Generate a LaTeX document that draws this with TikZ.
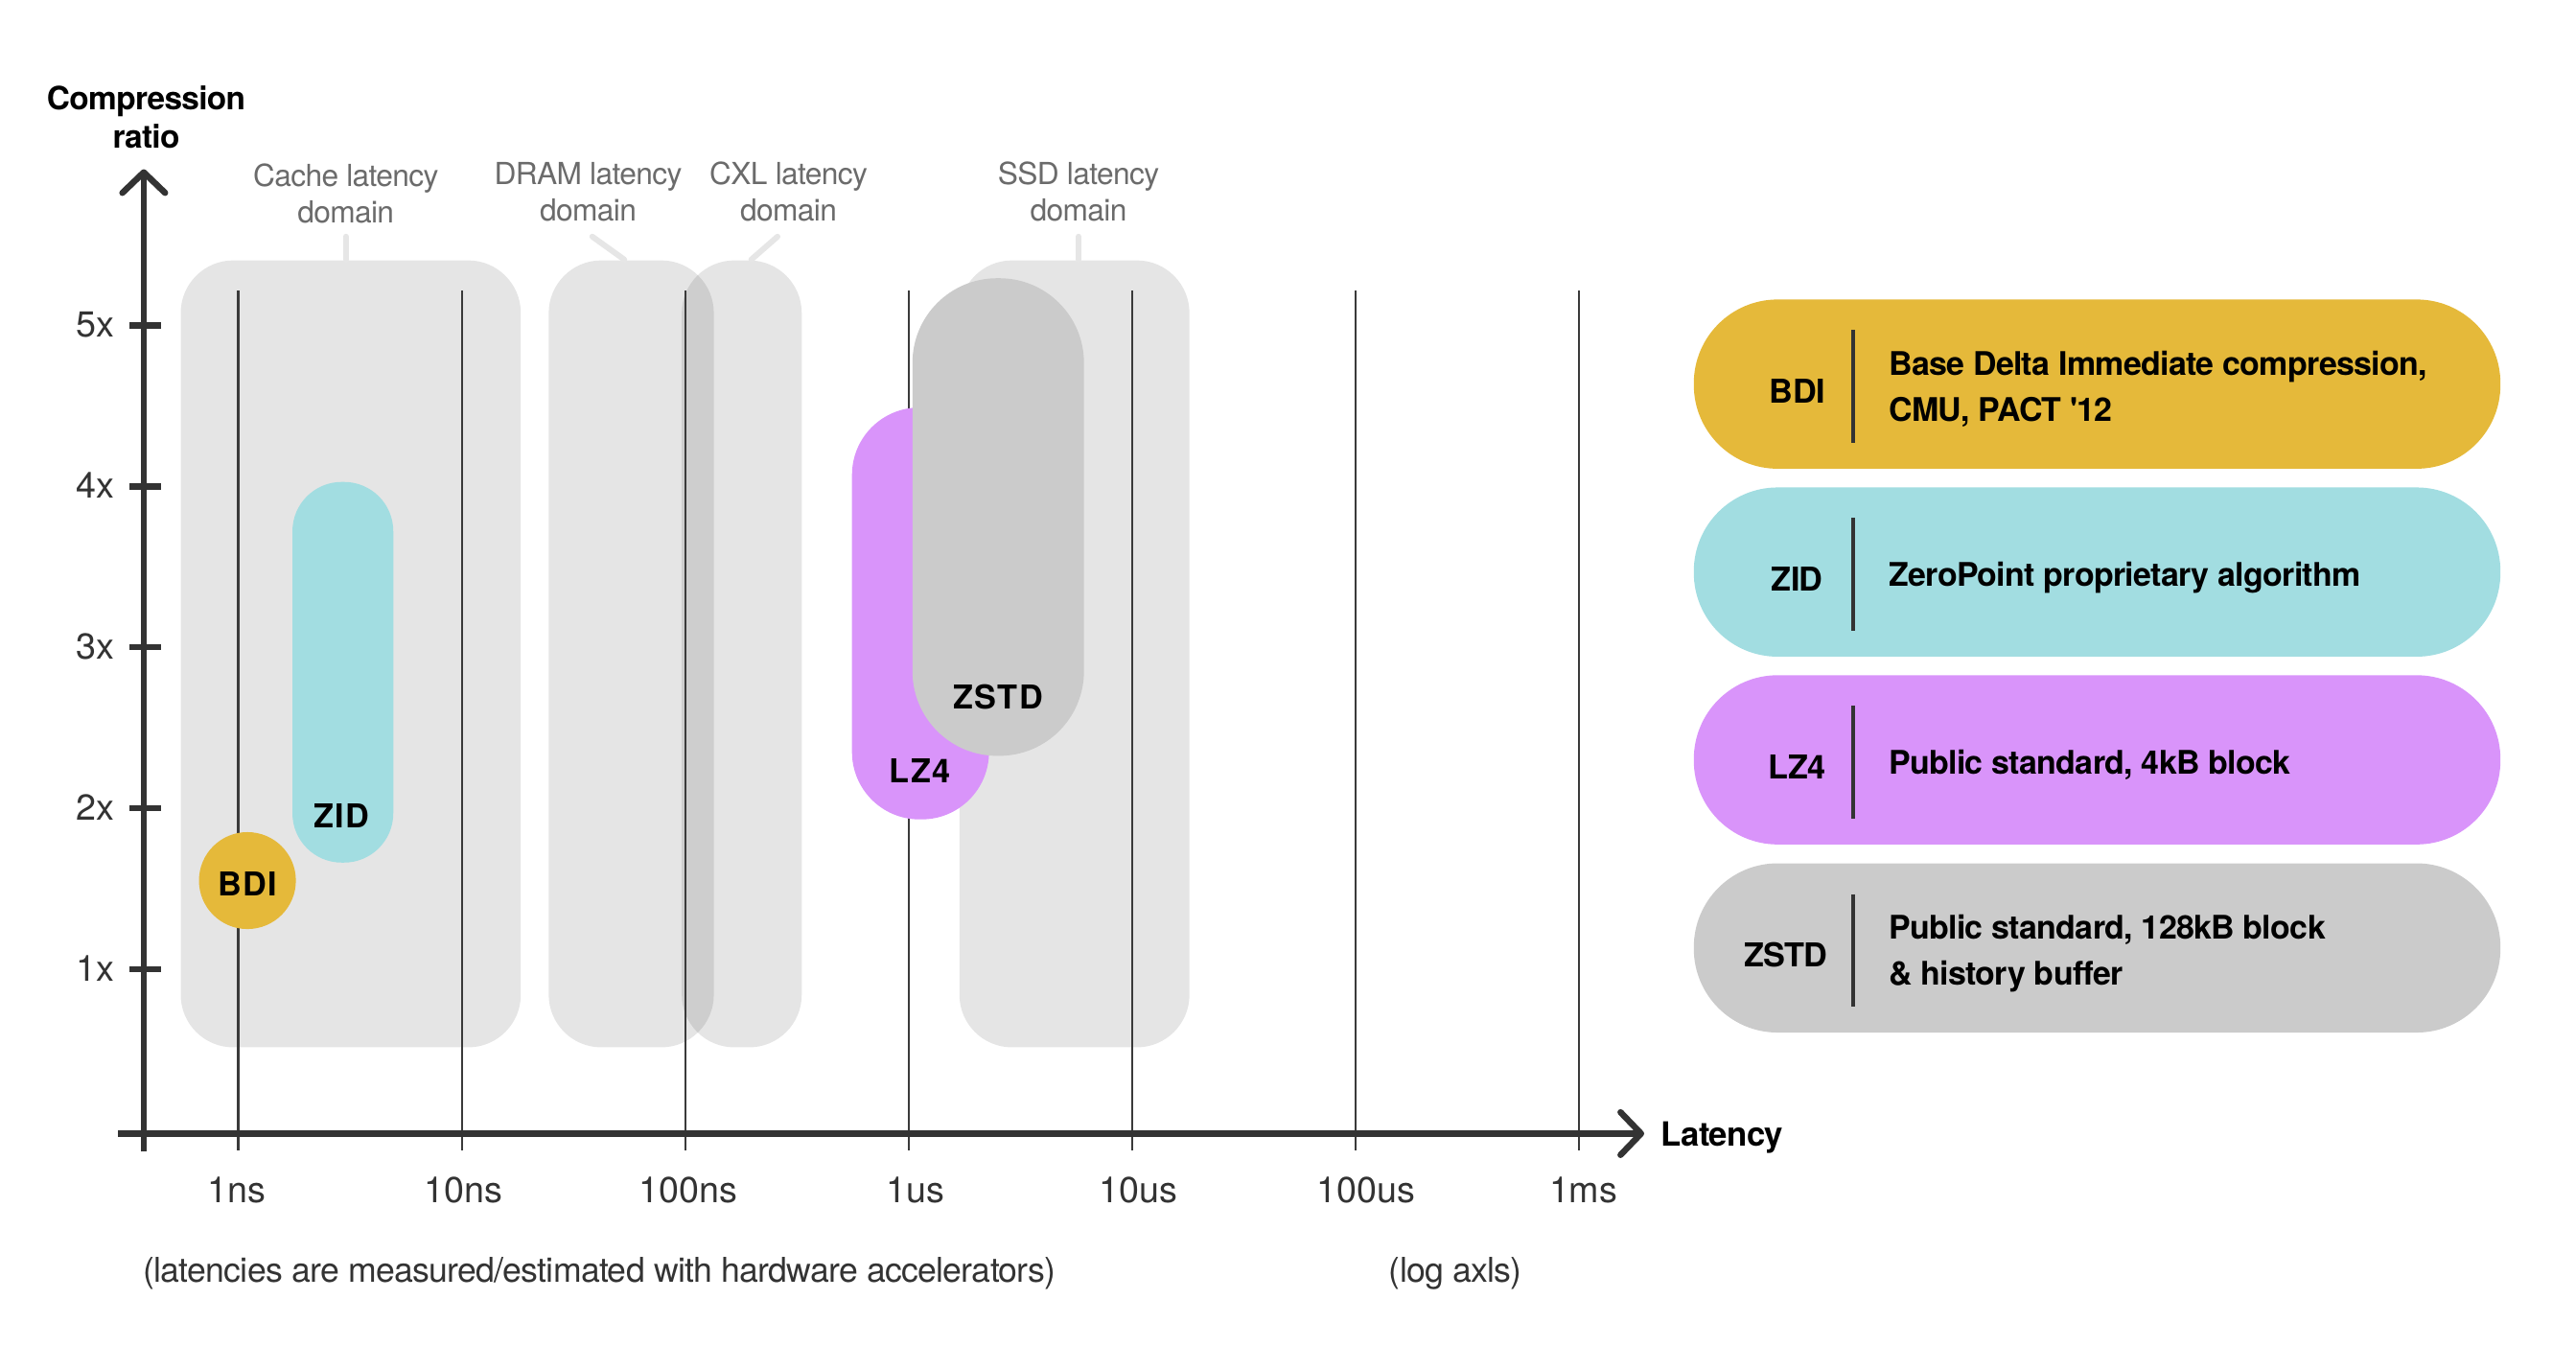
\documentclass[tikz,border=0pt]{standalone}
\usepackage{fontspec}
\setmainfont[LetterSpace=-2,Ligatures=TeXOff]{TeX Gyre Heros}
\newfontfamily\tagfont[LetterSpace=4]{TeX Gyre Heros}
\newfontfamily\tickfont{TeX Gyre Heros}
\usepackage{tikz}
\usetikzlibrary{math}
\usetikzlibrary{arrows.meta}

\definecolor{bdigold}{HTML}{E5B93A}
\definecolor{zidcyan}{HTML}{A2DDE1}
\definecolor{lzpurple}{HTML}{D994FA}
\definecolor{zstdgray}{HTML}{CBCBCB}
\definecolor{axisgray}{HTML}{333333}
\definecolor{gridgray}{HTML}{3A3A3A}
\definecolor{labelgray}{HTML}{6B6B6B}
\definecolor{leadergray}{HTML}{E6E6E6}

\begin{document}
\begin{tikzpicture}[x=1pt, y=-1pt,
    domainbox/.style={rectangle, fill=black, fill opacity=0.1, rounded corners=32pt,
        inner sep=0pt, minimum height=479pt},
    leader/.style={draw=leadergray, line width=3.5pt, line cap=round},
    domaintext/.style={text=labelgray, align=center, anchor=base, inner sep=0pt,
        font=\fontsize{18.5}{22.5}\selectfont},
    gridline/.style={draw=gridgray, line width=1.2pt},
    axis/.style={draw=axisgray, line width=3.8pt},
    ticktext/.style={text=axisgray, inner sep=0pt, font=\tickfont\fontsize{22}{24}\selectfont},
    notetext/.style={text=axisgray, inner sep=0pt, font=\fontsize{20.8}{24}\selectfont},
    axistitle/.style={align=center, inner sep=0pt, font=\fontsize{19.5}{23}\selectfont\bfseries},
    algobox/.style={rectangle, inner sep=0pt},
    algotext/.style={font=\tagfont\fontsize{20}{24}\selectfont\bfseries},
    keybox/.style={rectangle, inner sep=0pt, minimum width=491pt, minimum height=103pt,
        rounded corners=51pt},
    keyname/.style={anchor=base, inner sep=0pt, font=\fontsize{20}{24}\selectfont\bfseries},
    keytext/.style={anchor=base west, align=left, inner sep=0pt,
        font=\fontsize{19.8}{27.7}\selectfont\bfseries},
    keyrule/.style={draw=black!80, line width=2pt}
]

% Position settings
\tikzmath{
    \Decade = 136;
    \Ratio = 98;
    \FirstTick = 145;
}

\useasboundingbox (0,0) rectangle (1568,833);

\coordinate (Xstart) at (72,690);
\coordinate (Xend) at (1000.8,690);
\coordinate (Ystart) at (87.5,701);
\coordinate (Yend) at (87.5,103);

% Draws latency domains
\node[domainbox, minimum width=207pt] (cache) at (213.5,398) {};
\node[domainbox, minimum width=100.5pt] (dram) at (384.25,398) {};
\node[domainbox, minimum width=73pt] (cxl) at (451.5,398) {};
\node[domainbox, minimum width=140pt] (ssd) at (654,398) {};

\node[domaintext] (cachelbl) at (210.5,135.8) {Cache latency\\domain};
\node[domaintext] (dramlbl) at (358,134.6) {DRAM latency\\domain};
\node[domaintext] (cxllbl) at (480,134.6) {CXL latency\\domain};
\node[domaintext] (ssdlbl) at (656.5,134.6) {SSD latency\\domain};

\coordinate (cachefoot) at (210.5,158);
\coordinate (dramfoot) at (380,158);
\coordinate (cxlfoot) at (457.3,158);
\coordinate (ssdfoot) at (656.5,158);
\draw[leader] (210.5,144) -- (cachefoot);
\draw[leader] (360.5,144) -- (dramfoot);
\draw[leader] (473.3,144) -- (cxlfoot);
\draw[leader] (656.5,144) -- (ssdfoot);

% Draws latency grid
\draw[gridline] (\FirstTick,177) -- (\FirstTick,700);
\draw[gridline] (\FirstTick+\Decade,177) -- (\FirstTick+\Decade,700);
\draw[gridline] (\FirstTick+2*\Decade,177) -- (\FirstTick+2*\Decade,700);
\draw[gridline] (\FirstTick+3*\Decade,177) -- (\FirstTick+3*\Decade,700);
\draw[gridline] (\FirstTick+4*\Decade,177) -- (\FirstTick+4*\Decade,700);
\draw[gridline] (\FirstTick+5*\Decade,177) -- (\FirstTick+5*\Decade,700);
\draw[gridline] (\FirstTick+6*\Decade,177) -- (\FirstTick+6*\Decade,700);

% Draws axis
\draw[axis, -{Straight Barb[length=12.5pt, width=26pt, round]}] (Xstart) -- (Xend);
\draw[axis, -{Straight Barb[length=12.5pt, width=26pt, round]}] (Ystart) -- (Yend);
\node[axistitle, anchor=base west, font=\fontsize{20.3}{24}\selectfont\bfseries] (latency) at (1011,697.4) {Latency};
\node[axistitle, anchor=base] (ratio) at (89,90) {Compression\\ratio};

\draw[axis] (78.8,688-5*\Ratio) -- (98,688-5*\Ratio);
\draw[axis] (78.8,688-4*\Ratio) -- (98,688-4*\Ratio);
\draw[axis] (78.8,688-3*\Ratio) -- (98,688-3*\Ratio);
\draw[axis] (78.8,688-2*\Ratio) -- (98,688-2*\Ratio);
\draw[axis] (78.8,688-\Ratio) -- (98,688-\Ratio);
\node[ticktext, anchor=base east] (r5) at (70,695-5*\Ratio) {5x};
\node[ticktext, anchor=base east] (r4) at (70,695-4*\Ratio) {4x};
\node[ticktext, anchor=base east] (r3) at (70,695-3*\Ratio) {3x};
\node[ticktext, anchor=base east] (r2) at (70,695-2*\Ratio) {2x};
\node[ticktext, anchor=base east] (r1) at (70,695-\Ratio) {1x};

\node[ticktext, anchor=base] (t1ns) at (144,731.8) {1ns};
\node[ticktext, anchor=base] (t10ns) at (282,731.8) {10ns};
\node[ticktext, anchor=base] (t100ns) at (419,731.8) {100ns};
\node[ticktext, anchor=base] (t1us) at (557,731.8) {1us};
\node[ticktext, anchor=base] (t10us) at (692.7,731.8) {10us};
\node[ticktext, anchor=base] (t100us) at (831.7,731.8) {100us};
\node[ticktext, anchor=base] (t1ms) at (963.8,731.8) {1ms};

\node[notetext, anchor=base west] (footnote) at (87,780.6) {(latencies are measured/estimated with hardware accelerators)};
\node[notetext, anchor=base] (lognote) at (886,780.6) {(log axls)};

% Draws algorithms
\node[algobox, circle, fill=bdigold, minimum size=59pt] (bdi) at (150.6,536) {};
\node[algobox, fill=zidcyan, minimum width=61.4pt, minimum height=231.7pt, rounded corners=30pt] (zid) at (208.7,409.2) {};
\node[algobox, fill=lzpurple, minimum width=83.4pt, minimum height=250.7pt, rounded corners=41pt] (lz4) at (560.3,373.4) {};
\node[algobox, fill=zstdgray, minimum width=104.4pt, minimum height=290.7pt, rounded corners=51.5pt] (zstd) at (607.6,314.7) {};

\node[algotext] (bdilbl) at (150.6,537.8) {BDI};
\node[algotext] (zidlbl) at (207.8,496.6) {ZID};
\node[algotext] (lz4lbl) at (560,469) {LZ4};
\node[algotext] (zstdlbl) at (607.5,424) {ZSTD};

% Draws legend
\node[keybox, fill=bdigold] (bdikey) at (1276.5,233.8) {};
\node[keyname] (bdiname) at ([xshift=-182.5pt, yshift=-11.5pt]bdikey.center) {BDI};
\draw[keyrule] ([xshift=-148.5pt, yshift=32.8pt]bdikey.center) -- ([xshift=-148.5pt, yshift=-35.8pt]bdikey.center);
\node[keytext] (bditext) at ([xshift=-126.9pt, yshift=-22.5pt]bdikey.center) {Base Delta Immediate compression,\\CMU, PACT '12};

\node[keybox, fill=zidcyan] (zidkey) at (1276.5,348.2) {};
\node[keyname] (zidname) at ([xshift=-182.5pt, yshift=-11.5pt]zidkey.center) {ZID};
\draw[keyrule] ([xshift=-148.5pt, yshift=32.8pt]zidkey.center) -- ([xshift=-148.5pt, yshift=-35.8pt]zidkey.center);
\node[keytext] (zidtext) at ([xshift=-126.9pt, yshift=-8.5pt]zidkey.center) {ZeroPoint proprietary algorithm};

\node[keybox, fill=lzpurple] (lz4key) at (1276.5,462.5) {};
\node[keyname] (lz4name) at ([xshift=-182.5pt, yshift=-11.5pt]lz4key.center) {LZ4};
\draw[keyrule] ([xshift=-148.5pt, yshift=32.8pt]lz4key.center) -- ([xshift=-148.5pt, yshift=-35.8pt]lz4key.center);
\node[keytext] (lz4text) at ([xshift=-126.9pt, yshift=-8.5pt]lz4key.center) {Public standard, 4kB block};

\node[keybox, fill=zstdgray] (zstdkey) at (1276.5,577) {};
\node[keyname] (zstdname) at ([xshift=-189.5pt, yshift=-11.5pt]zstdkey.center) {ZSTD};
\draw[keyrule] ([xshift=-148.5pt, yshift=32.8pt]zstdkey.center) -- ([xshift=-148.5pt, yshift=-35.8pt]zstdkey.center);
\node[keytext] (zstdtext) at ([xshift=-126.9pt, yshift=-22.5pt]zstdkey.center) {Public standard, 128kB block\\\& history buffer};

\end{tikzpicture}
\end{document}
